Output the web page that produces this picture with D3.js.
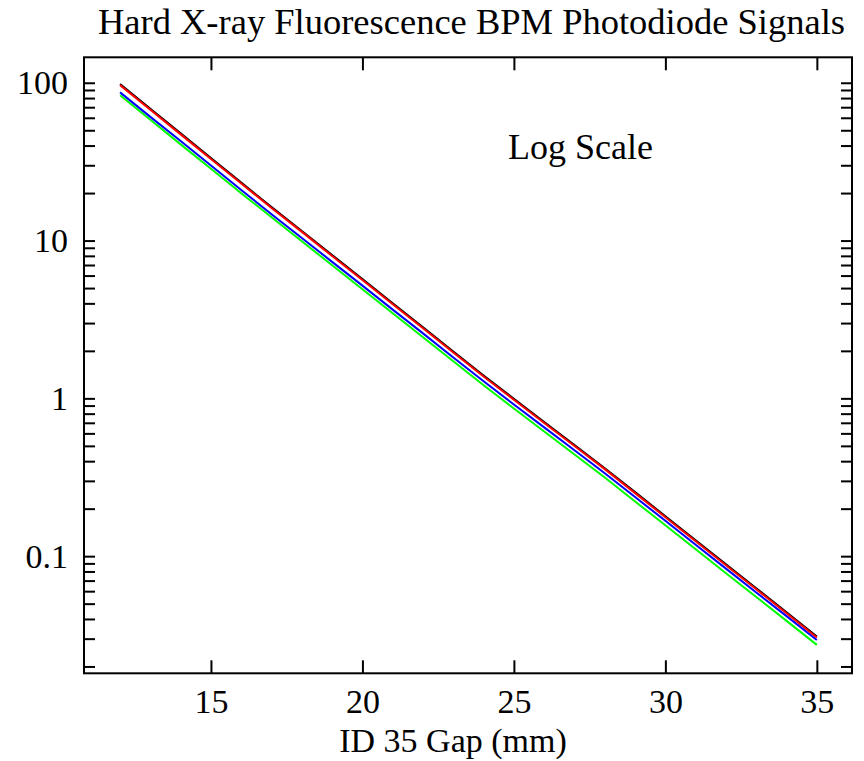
<!DOCTYPE html>
<html>
<head>
<meta charset="utf-8">
<script src="https://cdn.jsdelivr.net/npm/d3@7"></script>
<style>
  html, body { margin: 0; padding: 0; background: #fff; }
  svg { display: block; }
</style>
</head>
<body>
<svg id="chart" width="864" height="761"></svg>
<script>
// ---- data ----
const gaps = [12,13,14,15,16,17,18,19,20,21,22,23,24,25,26,27,28,29,30,31,32,33,34,35];
const blackSignal = [98.0,68.4,47.8,33.4,23.3,16.3,11.5,8.09,5.70,4.01,2.82,1.98,1.396,0.993,0.708,0.506,0.361,0.255,0.179,0.126,0.0887,0.0626,0.0441,0.0309];
const redSignal   = [96.6,67.5,47.1,32.9,23.0,16.1,11.35,7.98,5.62,3.95,2.78,1.954,1.377,0.979,0.698,0.499,0.356,0.251,0.1766,0.1242,0.0875,0.0617,0.0435,0.0305];
const blueSignal  = [86.9,60.8,42.7,29.9,20.9,14.7,10.38,7.33,5.18,3.65,2.58,1.816,1.282,0.914,0.655,0.469,0.335,0.237,0.1675,0.1180,0.0834,0.0589,0.0417,0.0294];
const greenSignal = [83.4,58.3,40.7,28.5,19.95,14.06,9.89,6.97,4.92,3.46,2.44,1.718,1.211,0.863,0.617,0.441,0.315,0.222,0.157,0.1107,0.0780,0.0551,0.0389,0.0274];
const xTicks = [15,20,25,30,35];
const yMajorTicks = [0.1,1,10,100];
const yMajorLabels = ["0.1","1","10","100"];
const yMinorTicks = [0.02,0.03,0.04,0.05,0.06,0.07,0.08,0.09,
                     0.2,0.3,0.4,0.5,0.6,0.7,0.8,0.9,
                     2,3,4,5,6,7,8,9,
                     20,30,40,50,60,70,80,90];
const titleText = "Hard X-ray Fluorescence BPM Photodiode Signals";
const xLabelText = "ID 35 Gap (mm)";
const noteText = "Log Scale";

// ---- layout ----
const FONT = '"Liberation Serif", "Times New Roman", Times, "DejaVu Serif", serif';
const svg = d3.select("#chart");
const L = 84, R = 852, T = 57.3, B = 673.3;
const x = d3.scaleLinear().domain([10.81, 36.16]).range([L, R]);
const y = d3.scaleLog().domain([0.0181, 145]).range([B, T]);
const FS = 34;

const allY = yMajorTicks.concat(yMinorTicks);
const labelMap = new Map(yMajorTicks.map((v,i)=>[v, yMajorLabels[i]]));

function styleAxis(g) {
  g.attr("font-family", null).attr("font-size", null);
  g.select(".domain").remove();
  g.selectAll(".tick line").attr("stroke", "#000").attr("stroke-width", 2);
  g.selectAll("text").attr("font-family", FONT).attr("font-size", FS).attr("fill", "#000");
}

// left axis
svg.append("g").attr("transform", `translate(${L},0)`)
  .call(d3.axisLeft(y).tickValues(allY).tickSize(-11).tickPadding(16)
    .tickFormat(d => labelMap.has(d) ? labelMap.get(d) : ""))
  .call(styleAxis);
// right axis
svg.append("g").attr("transform", `translate(${R},0)`)
  .call(d3.axisRight(y).tickValues(allY).tickSize(-11).tickFormat(""))
  .call(styleAxis);
// bottom axis
svg.append("g").attr("transform", `translate(0,${B})`)
  .call(d3.axisBottom(x).tickValues(xTicks).tickSize(-13).tickPadding(16).tickFormat(d3.format("d")))
  .call(styleAxis);
// top axis
svg.append("g").attr("transform", `translate(0,${T})`)
  .call(d3.axisTop(x).tickValues(xTicks).tickSize(-13).tickFormat(""))
  .call(styleAxis);

// frame
svg.append("rect").attr("x", L).attr("y", T).attr("width", R - L).attr("height", B - T)
  .attr("fill", "none").attr("stroke", "#000").attr("stroke-width", 2);

// lines
const series = [
  {vals: blackSignal, color: "#000000"},
  {vals: greenSignal, color: "#00ff00"},
  {vals: blueSignal,  color: "#0000ff"},
  {vals: redSignal,   color: "#ff0000"}
];
const line = d3.line().x((d,i) => x(gaps[i])).y(d => y(d));
series.forEach(s => {
  svg.append("path").datum(s.vals).attr("d", line)
    .attr("fill", "none").attr("stroke", s.color).attr("stroke-width", 2)
    .attr("stroke-linejoin", "round");
});

// texts
svg.append("text").attr("x", 471.5).attr("y", 34).attr("text-anchor", "middle")
  .attr("font-family", FONT).attr("font-size", 36.5).text(titleText);
svg.append("text").attr("x", 453).attr("y", 752).attr("text-anchor", "middle")
  .attr("font-family", FONT).attr("font-size", FS).text(xLabelText);
svg.append("text").attr("x", 508).attr("y", 159)
  .attr("font-family", FONT).attr("font-size", 36).text(noteText);
</script>
</body>
</html>
